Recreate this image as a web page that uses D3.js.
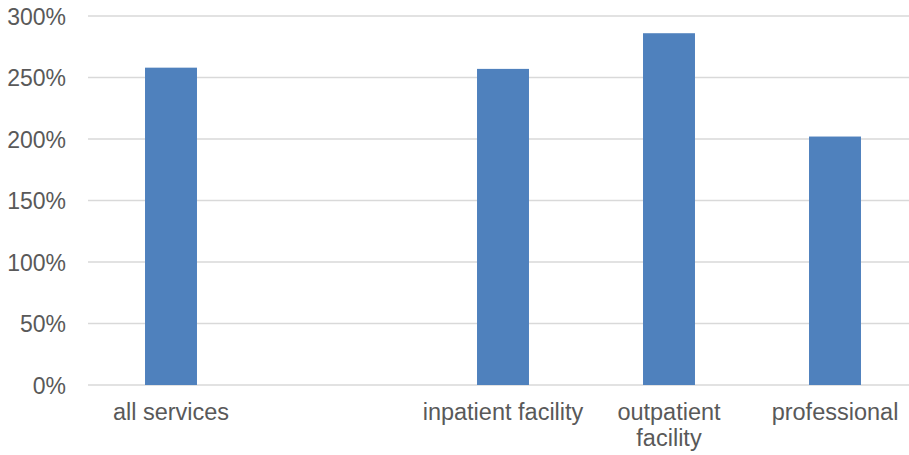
<!DOCTYPE html>
<html>
<head>
<meta charset="utf-8">
<script src="https://cdn.jsdelivr.net/npm/d3@7"></script>
<style>
  html, body { margin: 0; padding: 0; background: #fff; }
  svg { display: block; }
  text { font-family: "Liberation Sans", Arial, sans-serif; fill: #595959; }
</style>
</head>
<body>
<svg id="chart" width="909" height="455"></svg>
<script>
// Growth by service type (percent)
const categories = ["all services", "", "inpatient facility", "outpatient facility", "professional"];
const values = [258, null, 257, 286, 202];
const yTicks = [0, 50, 100, 150, 200, 250, 300];
const tickLabels = ["0%", "50%", "100%", "150%", "200%", "250%", "300%"];

const svg = d3.select("#chart");
const plotLeft = 88, plotRight = 918, plotTop = 16, plotBottom = 385;
const yFontSize = 23;
const xFontSize = 23.5;

const x = d3.scaleBand()
  .domain(categories.map((c, i) => i))
  .range([plotLeft, plotRight])
  .paddingInner(0.687)
  .paddingOuter(0.687 / 2);

const y = d3.scaleLinear().domain([0, 300]).range([plotBottom, plotTop]);

// Horizontal gridlines
svg.append("g").selectAll("line")
  .data(yTicks)
  .join("line")
  .attr("x1", plotLeft).attr("x2", plotRight)
  .attr("y1", d => y(d)).attr("y2", d => y(d))
  .attr("stroke", "#d9d9d9")
  .attr("stroke-width", 1.5);

// Y axis labels
const yAxis = d3.axisLeft(y)
  .tickValues(yTicks)
  .tickFormat((d, i) => tickLabels[i])
  .tickSize(0)
  .tickPadding(0);
const gy = svg.append("g").attr("transform", "translate(66,0)").call(yAxis);
gy.attr("font-family", null).attr("font-size", null);
gy.select(".domain").remove();
gy.selectAll("text")
  .attr("font-size", yFontSize)
  .attr("fill", "#595959")
  .attr("dy", "0.36em");

// Bars
svg.append("g").selectAll("rect")
  .data(values.map((v, i) => ({ i, v })).filter(d => d.v != null))
  .join("rect")
  .attr("x", d => x(d.i))
  .attr("width", x.bandwidth())
  .attr("y", d => y(d.v))
  .attr("height", d => y(0) - y(d.v))
  .attr("fill", "#4f81bd");

// Category labels, wrapped where the slot is too narrow
const step = x.step();
const labels = svg.append("g").selectAll("text")
  .data(categories.map((c, i) => ({ c, i })).filter(d => d.c))
  .join("text")
  .attr("text-anchor", "middle")
  .attr("font-size", xFontSize)
  .attr("x", d => x(d.i) + x.bandwidth() / 2)
  .attr("y", 420);

labels.each(function(d) {
  const t = d3.select(this);
  const words = d.c.split(" ");
  let line = [];
  let tspan = t.append("tspan").attr("x", t.attr("x")).attr("dy", 0);
  for (const w of words) {
    line.push(w);
    tspan.text(line.join(" "));
    if (tspan.node().getComputedTextLength() > step - 2 && line.length > 1) {
      line.pop();
      tspan.text(line.join(" "));
      line = [w];
      tspan = t.append("tspan").attr("x", t.attr("x")).attr("dy", 26).text(w);
    }
  }
});
</script>
</body>
</html>
